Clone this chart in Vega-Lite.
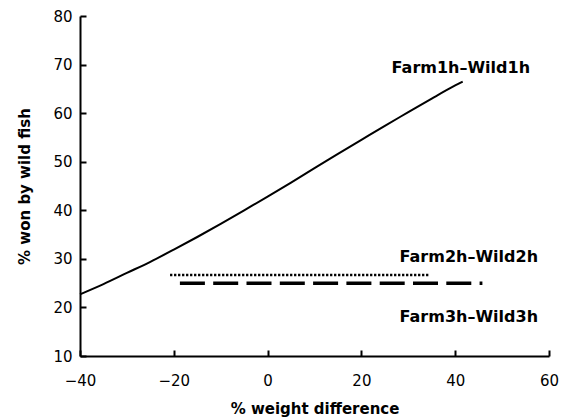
{
  "$schema": "https://vega.github.io/schema/vega-lite/v6.json",
  "autosize": "none",
  "width": 469,
  "height": 340,
  "padding": {"left": 80, "top": 16, "right": 33, "bottom": 63},
  "background": "#ffffff",
  "datasets": {
    "curves": [
      {"series": "Farm1h–Wild1h", "x": -40, "y": 22.7},
      {"series": "Farm1h–Wild1h", "x": -35, "y": 24.8},
      {"series": "Farm1h–Wild1h", "x": -30, "y": 27.1},
      {"series": "Farm1h–Wild1h", "x": -25, "y": 29.4},
      {"series": "Farm1h–Wild1h", "x": -20, "y": 31.9},
      {"series": "Farm1h–Wild1h", "x": -15, "y": 34.5},
      {"series": "Farm1h–Wild1h", "x": -10, "y": 37.2},
      {"series": "Farm1h–Wild1h", "x": -5, "y": 40.0},
      {"series": "Farm1h–Wild1h", "x": 0, "y": 42.8},
      {"series": "Farm1h–Wild1h", "x": 5, "y": 45.7},
      {"series": "Farm1h–Wild1h", "x": 10, "y": 48.7},
      {"series": "Farm1h–Wild1h", "x": 15, "y": 51.6},
      {"series": "Farm1h–Wild1h", "x": 20, "y": 54.5},
      {"series": "Farm1h–Wild1h", "x": 25, "y": 57.4},
      {"series": "Farm1h–Wild1h", "x": 30, "y": 60.2},
      {"series": "Farm1h–Wild1h", "x": 35, "y": 63.0},
      {"series": "Farm1h–Wild1h", "x": 40, "y": 65.7},
      {"series": "Farm1h–Wild1h", "x": 41.6, "y": 66.5},
      {"series": "Farm2h–Wild2h", "x": -20.8, "y": 26.7},
      {"series": "Farm2h–Wild2h", "x": 34.6, "y": 26.7},
      {"series": "Farm3h–Wild3h", "x": -18.7, "y": 25.0},
      {"series": "Farm3h–Wild3h", "x": 45.8, "y": 25.0}
    ],
    "labels": [
      {"series": "Farm1h–Wild1h", "lx": 41.2, "ly": 68.3},
      {"series": "Farm2h–Wild2h", "lx": 42.9, "ly": 29.4},
      {"series": "Farm3h–Wild3h", "lx": 42.9, "ly": 17.1}
    ]
  },
  "config": {
    "view": {"stroke": null},
    "axis": {
      "grid": false,
      "domainColor": "#000000",
      "domainWidth": 2,
      "tickColor": "#000000",
      "tickWidth": 2,
      "tickSize": -6,
      "labelFont": "DejaVu Sans",
      "labelFontSize": 15,
      "labelColor": "#000000",
      "titleFont": "DejaVu Sans",
      "titleFontSize": 15,
      "titleFontWeight": "bold",
      "titleColor": "#000000"
    }
  },
  "layer": [
    {
      "data": {"name": "curves"},
      "transform": [{"filter": "datum.series === 'Farm1h–Wild1h'"}],
      "mark": {"type": "line", "color": "#000000", "strokeWidth": 2, "interpolate": "monotone"},
      "encoding": {
        "x": {
          "field": "x",
          "type": "quantitative",
          "scale": {"domain": [-40, 60], "nice": false, "zero": false},
          "axis": {
            "values": [-40, -20, 0, 20, 40, 60],
            "labelPadding": 23,
            "labelFlush": false,
            "title": "% weight difference",
            "titlePadding": 13
          }
        },
        "y": {
          "field": "y",
          "type": "quantitative",
          "scale": {"domain": [10, 80], "nice": false, "zero": false},
          "axis": {
            "values": [10, 20, 30, 40, 50, 60, 70, 80],
            "labelPadding": 14,
            "labelFlush": false,
            "title": "% won by wild fish",
            "titlePadding": 20
          }
        }
      }
    },
    {
      "data": {"name": "curves"},
      "transform": [{"filter": "datum.series === 'Farm2h–Wild2h'"}],
      "mark": {"type": "line", "color": "#000000", "strokeWidth": 2.5, "strokeDash": [2.3, 1.7]},
      "encoding": {
        "x": {"field": "x", "type": "quantitative"},
        "y": {"field": "y", "type": "quantitative"}
      }
    },
    {
      "data": {"name": "curves"},
      "transform": [{"filter": "datum.series === 'Farm3h–Wild3h'"}],
      "mark": {"type": "line", "color": "#000000", "strokeWidth": 3.5, "strokeDash": [25, 8.3]},
      "encoding": {
        "x": {"field": "x", "type": "quantitative"},
        "y": {"field": "y", "type": "quantitative"}
      }
    },
    {
      "data": {"name": "labels"},
      "mark": {
        "type": "text",
        "font": "DejaVu Sans",
        "fontSize": 16,
        "fontWeight": "bold",
        "color": "#000000",
        "align": "center",
        "baseline": "alphabetic"
      },
      "encoding": {
        "x": {"field": "lx", "type": "quantitative"},
        "y": {"field": "ly", "type": "quantitative"},
        "text": {"field": "series"}
      }
    }
  ]
}
